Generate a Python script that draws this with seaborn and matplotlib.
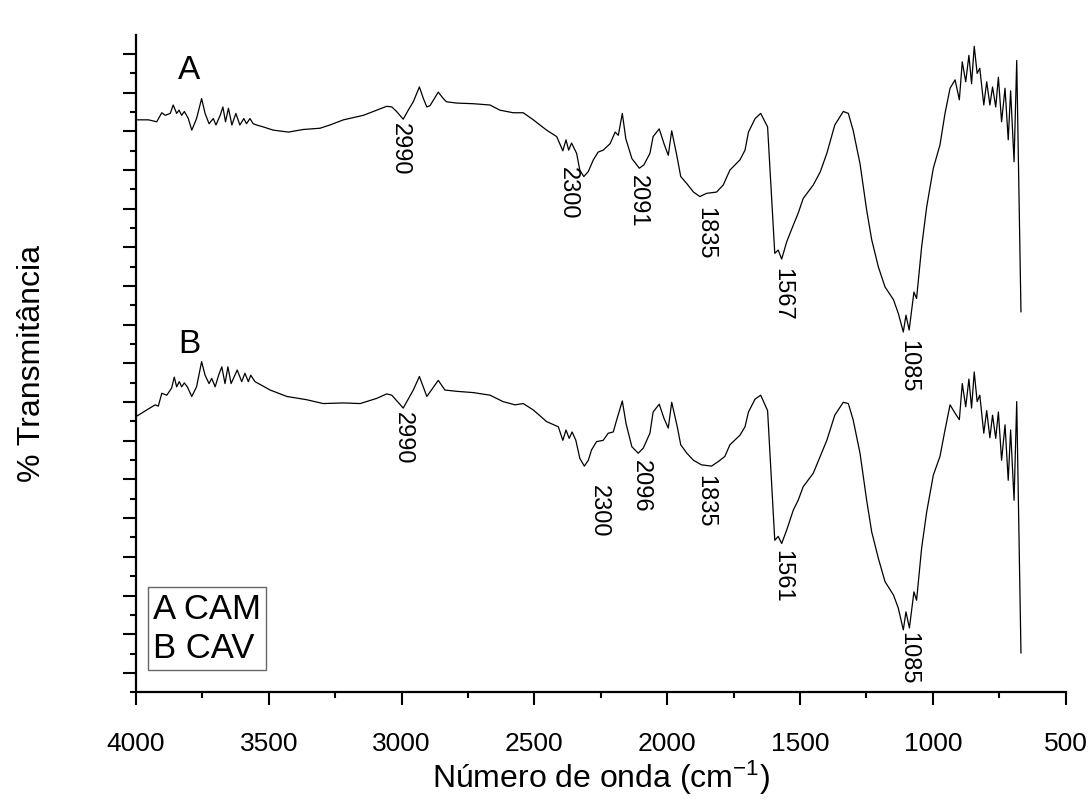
import matplotlib
matplotlib.use("Agg")
import matplotlib.pyplot as plt
from matplotlib.ticker import MultipleLocator, NullFormatter
import seaborn as sns
import pandas as pd

# ---------------- data ----------------
wn_A = [3995, 3953, 3922, 3903, 3890, 3871, 3860, 3847, 3838, 3828, 3818, 3803, 3790, 3772,
        3753, 3740, 3725, 3709, 3699, 3683, 3673, 3663, 3652, 3639, 3624, 3609, 3594, 3584,
        3571, 3559, 3546, 3521, 3483, 3426, 3371, 3307, 3270, 3219, 3144, 3094, 3056, 3037,
        3019, 2994, 2975, 2956, 2933, 2918, 2905, 2893, 2862, 2843, 2831, 2793, 2730, 2667,
        2630, 2580, 2542, 2504, 2454, 2416, 2393, 2381, 2371, 2360, 2341, 2329, 2314, 2297,
        2278, 2260, 2241, 2215, 2196, 2184, 2169, 2156, 2133, 2105, 2088, 2065, 2053, 2030,
        2012, 1996, 1983, 1964, 1949, 1926, 1901, 1877, 1852, 1814, 1789, 1764, 1726, 1707,
        1694, 1669, 1648, 1622, 1595, 1582, 1569, 1550, 1525, 1507, 1488, 1450, 1424, 1399,
        1369, 1337, 1318, 1300, 1274, 1249, 1230, 1205, 1180, 1148, 1130, 1111, 1101, 1089,
        1071, 1061, 1042, 1023, 998, 973, 954, 935, 916, 900, 889, 876, 864, 854, 844, 833,
        823, 808, 797, 785, 775, 763, 753, 741, 728, 716, 707, 694, 684, 668]
T_A = [88.1, 88.1, 87.8, 89.2, 88.8, 89.1, 90.4, 89.1, 89.6, 88.8, 89.4, 88.3, 86.5, 88.3,
       91.4, 89.1, 87.5, 88.3, 87.3, 88.8, 90.1, 87.8, 89.9, 87.3, 89.1, 87.3, 88.3, 87.5,
       88.3, 87.5, 87.3, 87.0, 86.5, 86.2, 86.6, 86.8, 87.3, 88.1, 88.8, 89.6, 90.2, 90.1,
       89.4, 88.2, 89.6, 90.9, 93.2, 91.4, 90.1, 90.3, 92.4, 91.4, 90.9, 90.7, 90.6, 90.4,
       89.6, 89.2, 89.2, 88.1, 86.5, 85.5, 83.3, 85.0, 83.4, 84.5, 82.9, 80.3, 79.3, 80.1,
       81.9, 83.1, 83.4, 84.4, 86.2, 85.7, 89.1, 85.2, 82.1, 80.6, 81.1, 82.9, 85.5, 86.7,
       84.4, 82.6, 86.4, 82.6, 79.3, 78.2, 76.9, 76.2, 76.7, 76.9, 78.0, 80.3, 81.9, 83.4,
       86.2, 88.3, 89.1, 87.0, 67.4, 67.9, 66.5, 69.2, 71.8, 73.6, 75.9, 78.0, 80.0, 82.9,
       87.3, 89.4, 89.1, 86.5, 81.3, 74.1, 69.5, 65.3, 62.2, 60.2, 58.1, 55.2, 57.8, 55.5,
       61.4, 60.4, 68.4, 74.6, 80.6, 84.2, 89.1, 93.0, 94.3, 91.2, 97.1, 94.0, 98.1, 93.7,
       99.5, 95.3, 96.1, 90.4, 94.0, 90.4, 93.2, 90.1, 94.7, 87.8, 93.0, 85.0, 92.6, 81.6,
       97.3, 58.3]

wn_B = [3995, 3960, 3928, 3916, 3903, 3884, 3866, 3856, 3847, 3837, 3828, 3818, 3807, 3790,
        3772, 3753, 3740, 3725, 3715, 3702, 3689, 3677, 3665, 3654, 3642, 3619, 3602, 3590,
        3577, 3568, 3552, 3495, 3432, 3358, 3295, 3219, 3156, 3094, 3056, 3037, 2994, 2956,
        2933, 2905, 2862, 2837, 2793, 2730, 2667, 2618, 2573, 2542, 2504, 2454, 2410, 2393,
        2381, 2369, 2358, 2344, 2329, 2312, 2297, 2285, 2266, 2241, 2222, 2203, 2190, 2169,
        2155, 2133, 2109, 2090, 2065, 2053, 2030, 2012, 1996, 1983, 1962, 1949, 1926, 1901,
        1871, 1833, 1808, 1783, 1764, 1726, 1707, 1694, 1669, 1648, 1622, 1595, 1582, 1569,
        1550, 1525, 1507, 1488, 1450, 1424, 1399, 1369, 1337, 1318, 1300, 1274, 1249, 1230,
        1205, 1180, 1148, 1130, 1111, 1101, 1088, 1071, 1061, 1042, 1023, 998, 973, 954,
        935, 916, 900, 889, 876, 864, 854, 844, 833, 823, 808, 797, 785, 775, 763, 753,
        741, 728, 716, 707, 694, 684, 668]
T_B = [42.2, 43.1, 43.9, 43.7, 45.7, 45.4, 46.5, 48.2, 46.7, 47.5, 46.7, 47.3, 46.7, 45.2,
       46.7, 50.6, 48.5, 47.2, 48.0, 46.7, 48.5, 49.8, 47.2, 49.8, 47.2, 49.3, 47.5, 48.8,
       47.5, 48.5, 47.5, 46.2, 45.2, 44.7, 44.1, 44.2, 44.1, 44.9, 45.6, 45.4, 43.4, 46.2,
       48.3, 45.2, 47.7, 46.2, 46.0, 45.8, 45.4, 44.4, 43.9, 44.1, 43.1, 41.3, 40.5, 38.4,
       40.0, 38.7, 39.7, 38.4, 35.6, 34.4, 35.3, 36.9, 38.2, 38.4, 39.5, 39.7, 41.6, 44.5,
       41.0, 37.4, 36.4, 37.2, 39.5, 42.8, 44.0, 41.8, 40.3, 44.3, 40.5, 37.7, 36.4, 35.3,
       34.6, 34.4, 35.1, 35.9, 37.7, 39.2, 40.5, 42.8, 44.8, 45.4, 43.0, 22.9, 23.5, 22.4,
       24.5, 27.6, 29.1, 31.2, 33.3, 35.9, 38.4, 42.3, 44.3, 44.1, 41.6, 36.4, 29.1, 24.2,
       20.1, 16.5, 14.4, 12.4, 9.0, 11.8, 9.3, 14.9, 13.6, 21.7, 27.3, 33.0, 35.9, 40.0,
       43.9, 42.6, 41.6, 47.2, 43.6, 47.9, 43.4, 49.0, 44.4, 45.4, 39.5, 43.0, 38.8, 42.3,
       38.7, 42.8, 35.3, 40.8, 32.2, 40.0, 29.1, 44.4, 5.4]

ann_text = ["2990", "2300", "2091", "1835", "1567", "1085",
            "2990", "2300", "2096", "1835", "1561", "1085"]
ann_wn = [3006, 2374, 2110, 1858, 1568, 1093,
          2995, 2257, 2099, 1858, 1568, 1093]
ann_y = [87.6, 80.8, 79.5, 74.6, 65.1, 54.0,
         42.8, 31.5, 35.3, 33.0, 21.4, 8.7]

curve_labels = ["A", "B"]
curve_label_wn = [3800, 3800]
curve_label_y = [95.8, 53.3]

legend_lines = ["A CAM", "B CAV"]
x_ticks = [4000, 3500, 3000, 2500, 2000, 1500, 1000, 500]

# ---------------- plotting ----------------
sns.set_theme(style="ticks")
plt.rcParams["font.family"] = ["Liberation Sans", "DejaVu Sans"]
plt.rcParams["mathtext.fontset"] = "custom"
plt.rcParams["mathtext.rm"] = "Liberation Sans"
plt.rcParams["mathtext.default"] = "regular"
for key in ["text.color", "axes.labelcolor", "xtick.color", "ytick.color",
            "axes.edgecolor", "xtick.labelcolor", "ytick.labelcolor"]:
    plt.rcParams[key] = "black"

df = pd.concat([
    pd.DataFrame({"wn": wn_A, "T": T_A, "amostra": "A"}),
    pd.DataFrame({"wn": wn_B, "T": T_B, "amostra": "B"}),
])

fig = plt.figure(figsize=(10.89, 8.0), dpi=100)
ax = fig.add_axes([0.1249, 0.1346, 0.8536, 0.8216])

sns.lineplot(data=df, x="wn", y="T", units="amostra", estimator=None,
             color="black", linewidth=0.9, ax=ax, legend=False)

ax.set_xlim(4000, 500)
ax.set_ylim(-0.68, 101.25)

ax.xaxis.set_minor_locator(MultipleLocator(250))
ax.set_xticks(x_ticks)
ax.set_xticklabels([str(t) for t in x_ticks])
ax.yaxis.set_major_locator(MultipleLocator(6, offset=2.33))
ax.yaxis.set_minor_locator(MultipleLocator(3, offset=2.33))
ax.yaxis.set_major_formatter(NullFormatter())
ax.yaxis.set_minor_formatter(NullFormatter())

for s in ["top", "right"]:
    ax.spines[s].set_visible(False)
for s in ["left", "bottom"]:
    ax.spines[s].set_linewidth(1.6)
    ax.spines[s].set_color("black")

ax.tick_params(axis="both", which="major", direction="out", length=9.5, width=1.5,
               color="black", labelcolor="black", labelsize=19, pad=19)
ax.tick_params(axis="both", which="minor", direction="out", length=4.5, width=1.5,
               color="black")

ax.set_xlabel("Número de onda (cm$^{-1}$)", fontsize=23, color="black")
ax.set_ylabel("% Transmitância", fontsize=23, color="black")
ax.xaxis.set_label_coords(0.5, -0.13)
ax.xaxis.label.set_va("center")
ax.yaxis.set_label_coords(-0.112, 0.5)
ax.yaxis.label.set_va("center")

for t, x, y in zip(ann_text, ann_wn, ann_y):
    ax.text(x, y, t, rotation=270, ha="center", va="top", fontsize=17, color="black")

for t, x, y in zip(curve_labels, curve_label_wn, curve_label_y):
    ax.text(x, y, t, ha="center", va="center", fontsize=24, color="black")

ax.text(0.018, 0.0415, "\n".join(legend_lines), transform=ax.transAxes,
        ha="left", va="bottom", fontsize=25, linespacing=1.25, color="black",
        bbox=dict(boxstyle="square,pad=0.15", fc="white", ec="#666666", lw=1.0))

fig.savefig("out.png", dpi=100)
